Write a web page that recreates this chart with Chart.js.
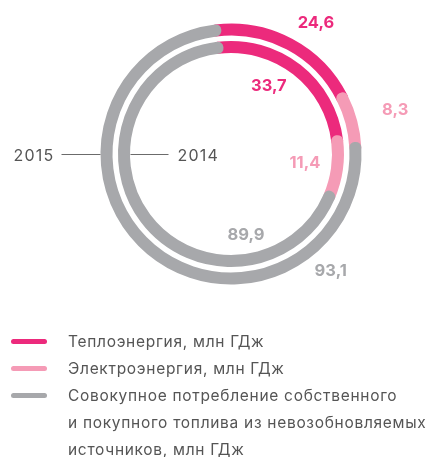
<!DOCTYPE html>
<html>
<head>
<meta charset="utf-8">
<script src="https://cdn.jsdelivr.net/npm/chart.js@4.4.1/dist/chart.umd.min.js"></script>
<style>
    body { margin: 0; background: #fff; font-family: Inter, "Noto Sans", sans-serif; }
    #wrap { position: relative; width: 432px; height: 457px; overflow: hidden; }
    #wrap canvas { position: absolute; left: 0; top: 0; }
    .legend { position: absolute; left: 0; top: 328px; width: 432px; }
    .legend .item { position: relative; padding-left: 68px; font-size: 15.5px; letter-spacing: 0.7px; line-height: 27px; color: #555; white-space: pre-line; }
    .legend .mark { position: absolute; left: 11px; top: 11px; width: 36px; height: 5px; border-radius: 3px; }
</style>
</head>
<body>
<div id="wrap">
    <canvas id="ring2015" width="432" height="457"></canvas>
    <canvas id="ring2014" width="432" height="457"></canvas>
    <div class="legend" id="legend"></div>
</div>
<script>
const categories = [
    'Теплоэнергия, млн ГДж',
    'Электроэнергия, млн ГДж',
    'Совокупное потребление собственного\nи покупного топлива из невозобновляемых\nисточников, млн ГДж'
];
const values2015 = [24.6, 8.3, 93.1];
const values2014 = [33.7, 11.4, 89.9];
const colors = ['#ec2a7c', '#f59bb6', '#a7a8ab'];

// ring stroke thickness, drawn as a round-joined border around a 1px sector
const stroke = 11;

// value labels: angle (deg, clockwise from top) and distance from the centre
const ringLabels = {
    id: 'ringLabels',
    afterDatasetsDraw(chart, args, opts) {
        const ctx = chart.ctx;
        const meta = chart.getDatasetMeta(0);
        const values = chart.data.datasets[0].data;
        ctx.save();
        ctx.font = '700 16.5px Inter, "Noto Sans", sans-serif';
        ctx.textAlign = 'center';
        ctx.textBaseline = 'middle';
        meta.data.forEach((arc, i) => {
            const a = (opts.angles[i] - 90) * Math.PI / 180;
            ctx.fillStyle = colors[i];
            ctx.fillText(String(values[i]).replace('.', ','),
                arc.x + Math.cos(a) * opts.dist[i], arc.y + Math.sin(a) * opts.dist[i]);
        });

        // year tag with a leader line
        const arc = meta.data[0];
        ctx.strokeStyle = '#6b6b6b';
        ctx.lineWidth = 1;
        ctx.fillStyle = '#555';
        ctx.font = '16px Inter, "Noto Sans", sans-serif';
        ctx.letterSpacing = '1.2px';
        ctx.textBaseline = 'middle';
        let x0, x1;
        if (opts.side === 'outer') {
            x1 = arc.x - arc.outerRadius - stroke / 2;
            x0 = x1 - 39;
            ctx.textAlign = 'right';
            ctx.fillText(opts.year, x0 - 7, arc.y + 2);
        } else {
            x0 = arc.x - arc.innerRadius + stroke / 2 + 0.5;
            x1 = x0 + 38;
            ctx.textAlign = 'left';
            ctx.fillText(opts.year, x1 + 9, arc.y + 2);
        }
        ctx.beginPath();
        ctx.moveTo(x0, arc.y + 0.5);
        ctx.lineTo(x1, arc.y + 0.5);
        ctx.stroke();
        ctx.restore();
    }
};

function makeRing(id, values, radius, labelOpts) {
    return new Chart(document.getElementById(id), {
        type: 'doughnut',
        data: {
            labels: categories,
            datasets: [{
                data: values,
                backgroundColor: colors,
                borderColor: colors,
                borderWidth: stroke,
                borderJoinStyle: 'round',
                hoverOffset: 0
            }]
        },
        options: {
            responsive: false,
            animation: false,
            events: [],
            rotation: -7,
            radius: radius + 0.5,
            cutout: ((radius - 0.5) / (radius + 0.5) * 100) + '%',
            layout: { padding: { left: 81, top: 4, right: 51, bottom: 153 } },
            plugins: {
                legend: { display: false },
                tooltip: { enabled: false },
                ringLabels: labelOpts
            }
        },
        plugins: [ringLabels]
    });
}

makeRing('ring2015', values2015, 124.5, {
    year: '2015', side: 'outer',
    angles: [33, 75, 139.5], dist: [156, 170, 153.5]
});
makeRing('ring2014', values2014, 107, {
    year: '2014', side: 'inner',
    angles: [29, 97, 169.5], dist: [78, 74.5, 82.5]
});

// legend
const legend = document.getElementById('legend');
categories.forEach((name, i) => {
    const item = document.createElement('div');
    item.className = 'item';
    item.innerHTML = '<span class="mark" style="background:' + colors[i] + '"></span>';
    item.appendChild(document.createTextNode(name));
    legend.appendChild(item);
});
</script>
</body>
</html>
